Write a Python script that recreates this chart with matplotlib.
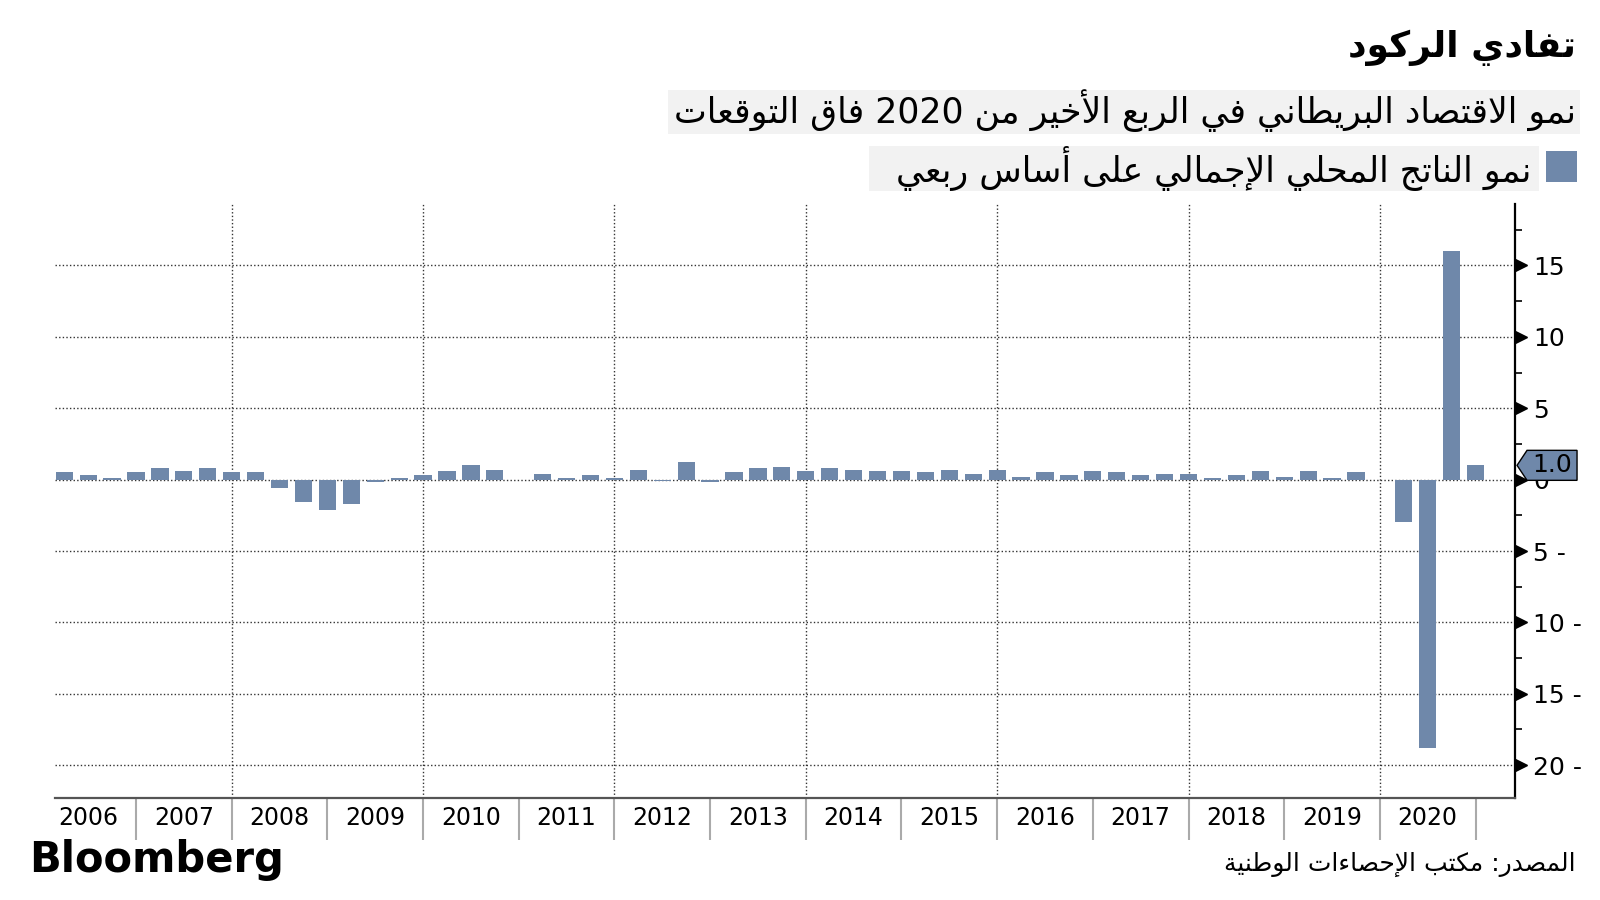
import re
import matplotlib
matplotlib.use('Agg')
import matplotlib.pyplot as plt
from matplotlib.patches import Rectangle, Polygon
from matplotlib.transforms import IdentityTransform, ScaledTranslation

# quarterly GDP growth, % q/q, 2006 Q1 .. 2020 Q4
years = list(range(2006, 2021))
gdp_qoq = [0.5, 0.3, 0.1, 0.5,
           0.8, 0.6, 0.8, 0.5,
           0.5, -0.6, -1.6, -2.1,
           -1.7, -0.2, 0.1, 0.3,
           0.6, 1.0, 0.7, 0.0,
           0.4, 0.1, 0.3, 0.1,
           0.7, -0.1, 1.2, -0.2,
           0.5, 0.8, 0.9, 0.6,
           0.8, 0.7, 0.6, 0.6,
           0.5, 0.7, 0.4, 0.7,
           0.2, 0.5, 0.3, 0.6,
           0.5, 0.3, 0.4, 0.4,
           0.1, 0.3, 0.6, 0.2,
           0.6, 0.1, 0.5, 0.0,
           -3.0, -18.8, 16.0, 1.0]
ytick_vals = [-20, -15, -10, -5, 0, 5, 10, 15]
ytick_labels = ['20 -', '15 -', '10 -', '5 -', '0', '5', '10', '15']
last_label = '1.0'

title = 'تفادي الركود'
subtitle = 'نمو الاقتصاد البريطاني في الربع الأخير من 2020 فاق التوقعات'
legend_text = 'نمو الناتج المحلي الإجمالي على أساس ربعي'
source = 'المصدر: مكتب الإحصاءات الوطنية'

BAR = '#6f88aa'

# --- minimal arabic shaping (matplotlib has no complex text layout) ---
_dual = {'ئ': 0xFE89, 'ب': 0xFE8F, 'ت': 0xFE95, 'ث': 0xFE99, 'ج': 0xFE9D,
         'ح': 0xFEA1, 'خ': 0xFEA5, 'س': 0xFEB1, 'ش': 0xFEB5, 'ص': 0xFEB9,
         'ض': 0xFEBD, 'ط': 0xFEC1, 'ظ': 0xFEC5, 'ع': 0xFEC9, 'غ': 0xFECD,
         'ف': 0xFED1, 'ق': 0xFED5, 'ك': 0xFED9, 'ل': 0xFEDD, 'م': 0xFEE1,
         'ن': 0xFEE5, 'ه': 0xFEE9, 'ي': 0xFEF1}
_right = {'آ': 0xFE81, 'أ': 0xFE83, 'ؤ': 0xFE85, 'إ': 0xFE87, 'ا': 0xFE8D,
          'ة': 0xFE93, 'د': 0xFEA9, 'ذ': 0xFEAB, 'ر': 0xFEAD, 'ز': 0xFEAF,
          'و': 0xFEED, 'ى': 0xFEEF}
_lamalef = {'آ': 0xFEF5, 'أ': 0xFEF7, 'إ': 0xFEF9, 'ا': 0xFEFB}


def ar(text):
    res = []
    i, n = 0, len(text)
    while i < n:
        c = text[i]
        prev = text[i - 1] if i > 0 else ''
        link_prev = prev in _dual
        if c == 'ل' and i + 1 < n and text[i + 1] in _lamalef:
            res.append(chr(_lamalef[text[i + 1]] + (1 if link_prev else 0)))
            i += 2
            continue
        nxt = text[i + 1] if i + 1 < n else ''
        if c in _dual:
            link_next = nxt in _dual or nxt in _right
            base = _dual[c]
            if link_prev and link_next:
                g = base + 3
            elif link_prev:
                g = base + 1
            elif link_next:
                g = base + 2
            else:
                g = base
            res.append(chr(g))
        elif c in _right:
            res.append(chr(_right[c] + (1 if link_prev else 0)))
        elif c == 'ء':
            res.append(chr(0xFE80))
        else:
            res.append(c)
        i += 1
    vis = ''.join(res)[::-1]
    return re.sub(r'[0-9.]+', lambda m: m.group(0)[::-1], vis)


plt.rcParams['font.family'] = ['DejaVu Sans']

fig = plt.figure(figsize=(16, 9), dpi=100)
ax = fig.add_axes([0.0344, 0.1133, 0.9125, 0.66])

x = list(range(len(gdp_qoq)))
ax.bar(x, gdp_qoq, width=0.72, color=BAR, zorder=3)

ax.set_xlim(-0.385, 60.65)
ax.set_ylim(-22.3, 19.3)

# grid
for v in ytick_vals:
    ax.axhline(v, color='#333333', lw=1.0, ls=(0, (1, 1.6)), zorder=1)
for i in range(7, len(x), 8):
    ax.axvline(i, color='#333333', lw=1.0, ls=(0, (1, 1.6)), zorder=1)

for s in ['top', 'left']:
    ax.spines[s].set_visible(False)
ax.spines['right'].set_color('black')
ax.spines['right'].set_linewidth(1.6)
ax.spines['bottom'].set_color('#555555')
ax.spines['bottom'].set_linewidth(1.6)

# y axis on right
ax.yaxis.tick_right()
ax.set_yticks(ytick_vals)
ax.set_yticklabels(ytick_labels, fontsize=18)
ax.tick_params(axis='y', which='major', length=0, pad=13)
ax.set_yticks([v + 2.5 for v in range(-20, 20, 5)], minor=True)
ax.tick_params(axis='y', which='minor', length=5, width=1.2, color='black', direction='out')
arrow_tr = ax.get_yaxis_transform() + ScaledTranslation(4 / 72, 0, fig.dpi_scale_trans)
ax.plot([1.0] * len(ytick_vals), ytick_vals, marker='>', ms=8, color='black', ls='none',
        transform=arrow_tr, clip_on=False, zorder=5)

# x axis: year labels (major, no mark) and year separators (minor)
ax.set_xticks(list(range(1, len(x), 4)))
ax.set_xticklabels([str(y) for y in years], fontsize=17)
ax.tick_params(axis='x', which='major', length=0, pad=6)
ax.set_xticks(list(range(3, len(x), 4)), minor=True)
ax.tick_params(axis='x', which='minor', length=30, width=1.5, color='#aaaaaa')

# last value tag
fig.canvas.draw()
xd = ax.transAxes.transform((1, 0))[0]
yd = ax.transData.transform((0, gdp_qoq[-1]))[1]
tag = Polygon([(xd + 2, yd), (xd + 12, yd + 15), (xd + 62, yd + 15),
               (xd + 62, yd - 15), (xd + 12, yd - 15)], closed=True,
              transform=IdentityTransform(), facecolor=BAR, edgecolor='black', lw=1,
              zorder=10)
fig.patches.append(tag)
fig.text(xd + 37, yd, last_label, transform=IdentityTransform(), ha='center', va='center',
         fontsize=18, color='black', zorder=11)

# header
fig.text(0.985, 0.947, ar(title), ha='right', va='center', fontsize=26, fontweight='bold')
fig.patches.append(Rectangle((0.4175, 0.851), 0.57, 0.049, transform=fig.transFigure,
                             facecolor='#f2f2f2', edgecolor='none', zorder=0))
fig.text(0.985, 0.877, ar(subtitle), ha='right', va='center', fontsize=25)
fig.patches.append(Rectangle((0.543, 0.788), 0.419, 0.050, transform=fig.transFigure,
                             facecolor='#f2f2f2', edgecolor='none', zorder=0))
fig.patches.append(Rectangle((0.9665, 0.798), 0.019, 0.034, transform=fig.transFigure,
                             facecolor=BAR, edgecolor='none'))
fig.text(0.957, 0.813, ar(legend_text), ha='right', va='center', fontsize=25)

# footer
fig.text(0.018, 0.044, 'Bloomberg', ha='left', va='center', fontsize=30, fontweight='bold')
fig.text(0.985, 0.039, ar(source), ha='right', va='center', fontsize=18)

fig.savefig('out.png', dpi=100)
